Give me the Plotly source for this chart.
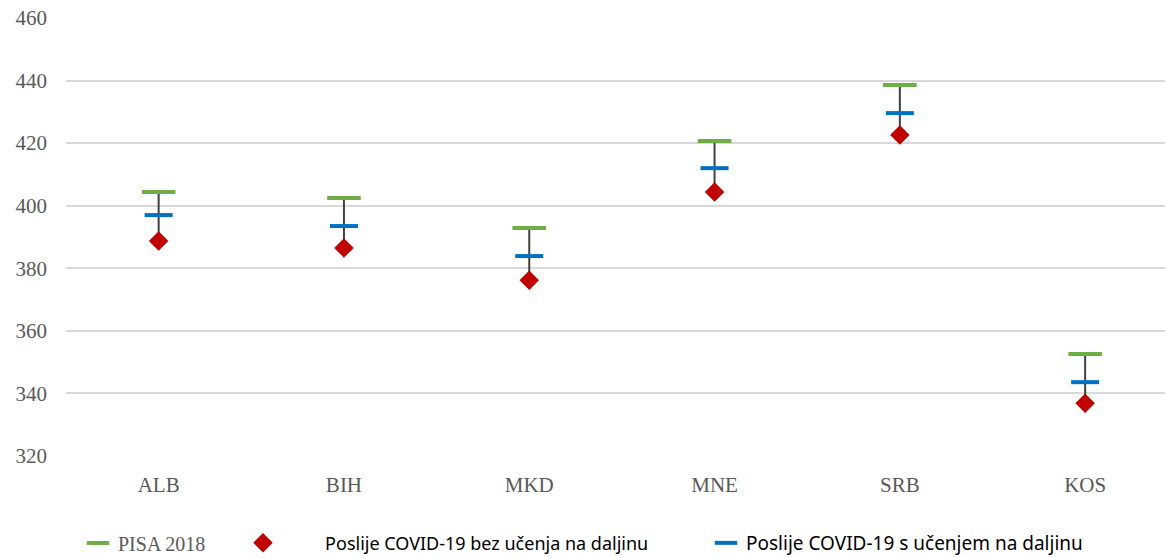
import plotly.graph_objects as go

countries = ["ALB", "BIH", "MKD", "MNE", "SRB", "KOS"]
pisa_2018 = [404.4, 402.5, 392.9, 420.7, 438.6, 352.6]
covid_no_remote = [388.7, 386.5, 376.2, 404.4, 422.6, 336.9]
covid_remote = [397.0, 393.5, 383.9, 412.0, 429.6, 343.6]

name_pisa = "PISA 2018"
name_no_remote = "Poslije COVID-19 bez učenja na daljinu"
name_remote = "Poslije COVID-19 s učenjem na daljinu"

y_ticks = [320, 340, 360, 380, 400, 420, 440, 460]

xs = list(range(len(countries)))

# connecting vertical lines
lx, ly = [], []
for i in xs:
    lx += [i, i, None]
    ly += [pisa_2018[i], covid_no_remote[i], None]

fig = go.Figure()
fig.add_trace(go.Scatter(x=lx, y=ly, mode="lines",
                         line=dict(color="#404040", width=2),
                         showlegend=False, hoverinfo="skip"))
fig.add_trace(go.Scatter(x=xs, y=pisa_2018, mode="markers", name=name_pisa,
                         marker=dict(symbol="line-ew", size=24,
                                     line=dict(color="#70ad47", width=4)),
                         legend="legend"))
fig.add_trace(go.Scatter(x=xs, y=covid_no_remote, mode="markers",
                         name="\u00a0" * 9 + name_no_remote,
                         marker=dict(symbol="diamond", size=15, color="#c00000"),
                         legend="legend2"))
fig.add_trace(go.Scatter(x=xs, y=covid_remote, mode="markers", name=name_remote,
                         marker=dict(symbol="line-ew", size=20,
                                     line=dict(color="#0070c0", width=4)),
                         legend="legend3"))

L, R = 66, 1165
W = R - L
H = 558

serif = "Liberation Serif, Times New Roman, serif"
sans = "Noto Sans, Open Sans, sans-serif"

common_leg = dict(orientation="h", yref="container", xref="container",
                  yanchor="middle", y=1 - 543 / H, xanchor="left",
                  bgcolor="rgba(0,0,0,0)", borderwidth=0)

fig.update_layout(
    width=1165, height=558,
    margin=dict(l=L, r=0, t=18, b=102),
    plot_bgcolor="white", paper_bgcolor="white",
    xaxis=dict(range=[-0.5, -0.5 + W / 185.3], tickmode="array", tickvals=xs,
               ticktext=countries, showgrid=False, zeroline=False, showline=False,
               tickfont=dict(family=serif, size=21, color="#595959"),
               ticklabelstandoff=14),
    yaxis=dict(range=[320, 460], tickvals=y_ticks, showgrid=True,
               gridcolor="#d9d9d9", gridwidth=1.5, zeroline=False, showline=False,
               tickfont=dict(family=serif, size=21, color="#595959"),
               ticklabelstandoff=18),
    legend=dict(common_leg, x=78 / 1165, font=dict(family=serif, size=20, color="#595959")),
    legend2=dict(common_leg, x=243 / 1165, font=dict(family=sans, size=18, color="#000000")),
    legend3=dict(common_leg, x=706 / 1165, font=dict(family=sans, size=19, color="#000000")),
)

fig.write_html("out.html")
